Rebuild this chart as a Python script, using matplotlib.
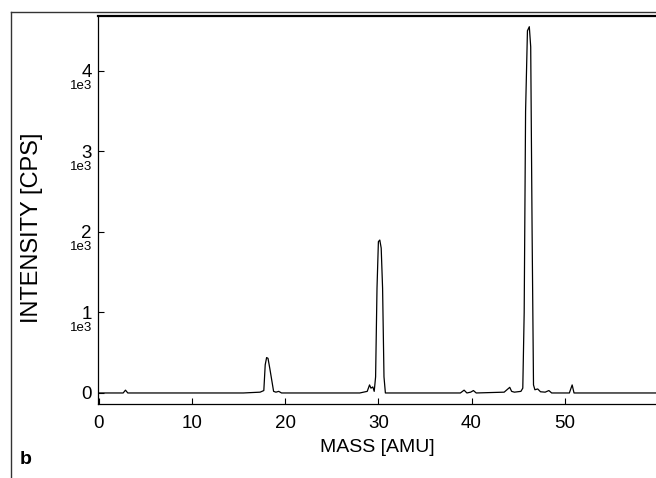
import matplotlib.pyplot as plt
from matplotlib.lines import Line2D
import matplotlib.transforms as mtransforms

plt.rcParams['font.family'] = ['Liberation Sans', 'DejaVu Sans']

# mass spectrum trace
mass = [0, 2.6, 2.85, 3.1, 15.5, 17.3, 17.7, 17.85, 18.0, 18.15, 18.35, 18.55,
        18.75, 19.0, 19.3, 19.6, 28.0, 28.8, 29.05, 29.2, 29.4, 29.55, 29.7,
        29.85, 30.0, 30.15, 30.3, 30.45, 30.6, 30.75, 38.8, 39.2, 39.5, 39.9,
        40.2, 40.5, 43.5, 44.1, 44.3, 44.6, 45.3, 45.5, 45.65, 45.8, 46.0,
        46.2, 46.35, 46.5, 46.65, 46.8, 47.1, 47.4, 47.9, 48.3, 48.6, 50.5,
        50.8, 51.0, 59.8]
intensity = [0, 0, 35, 0, 0, 10, 30, 350, 440, 430, 300, 160,
             20, 10, 20, 0, 0, 20, 100, 60, 75, 20, 200,
             1300, 1880, 1900, 1800, 1300, 200, 0, 0, 35, 0, 10,
             30, 0, 10, 70, 20, 10, 20, 60, 1000, 3500, 4500,
             4550, 4300, 2000, 100, 40, 50, 15, 10, 30, 0, 0,
             100, 0, 0]

xticks = [0, 10, 20, 30, 40, 50]
yticks = [0, 1000, 2000, 3000, 4000]
ytick_labels = ['0', '1', '2', '3', '4']
ytick_exp = ['', '1e3', '1e3', '1e3', '1e3']

fig = plt.figure(figsize=(6.56, 4.78), dpi=100)
ax = fig.add_axes([98 / 656, 74 / 478, 558 / 656, 388 / 478])

ax.plot(mass, intensity, color='black', lw=0.9)
ax.set_xlim(-0.1, 59.8)
ax.set_ylim(-137, 4683)

ax.spines['right'].set_visible(False)
ax.spines['top'].set_linewidth(1.6)
ax.spines['left'].set_linewidth(0.9)
ax.spines['bottom'].set_linewidth(0.9)

ax.set_xticks(xticks)
ax.set_xticklabels([str(t) for t in xticks])
ax.set_yticks(yticks)
ax.set_yticklabels(ytick_labels)
ax.tick_params(direction='in', length=4, width=0.8, labelsize=13.5)
ax.tick_params(axis='x', pad=8)
ax.tick_params(axis='y', pad=4.5)

# small "1e3" under each y tick label
trans = mtransforms.blended_transform_factory(ax.transAxes, ax.transData)
for v, e in zip(yticks, ytick_exp):
    if e:
        ax.annotate(e, xy=(0, v), xycoords=trans, xytext=(-4.5, -11),
                    textcoords='offset points', ha='right', va='center',
                    fontsize=9.5)

ax.set_xlabel('MASS [AMU]', fontsize=14)
ax.xaxis.set_label_coords(0.5, -0.111)
ax.xaxis.label.set_verticalalignment('center')
ax.set_ylabel('INTENSITY [CPS]', fontsize=17)
ax.yaxis.set_label_coords(-0.119, 0.454)
ax.yaxis.label.set_verticalalignment('center')

# outer frame of the scanned figure
fig.add_artist(Line2D([11 / 656, 11 / 656], [0, 1 - 12 / 478],
                      transform=fig.transFigure, color='#333333', lw=1.0))
fig.add_artist(Line2D([11 / 656, 1], [1 - 12 / 478, 1 - 12 / 478],
                      transform=fig.transFigure, color='#333333', lw=1.0))
fig.text(20 / 656, 1 - 460 / 478, 'b', fontsize=14, fontweight='bold',
         va='center', ha='left')

fig.savefig('out.png', dpi=100)
